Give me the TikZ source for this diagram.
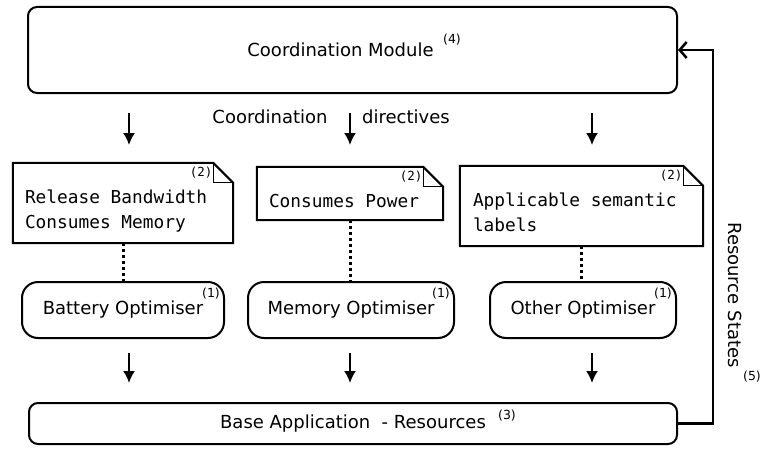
\documentclass[tikz,border=0pt]{standalone}
\usepackage{fontspec}
\setmainfont{DejaVu Sans}
\setmonofont{DejaVu Sans Mono}
\usetikzlibrary{arrows.meta, positioning}
\tikzstyle{bigbox} = [rectangle, rounded corners=9pt, draw=black, line width=2pt, font=\fontsize{18}{21}\selectfont]
\tikzstyle{optbox} = [rectangle, rounded corners=16pt, draw=black, line width=2pt, minimum height=56pt, font=\fontsize{18}{21}\selectfont]
\tikzstyle{note} = [rectangle, inner sep=0pt]
\tikzstyle{notetxt} = [anchor=north west, inner sep=0pt, align=left, font=\fontsize{17.8}{25}\ttfamily]
\tikzstyle{tag} = [inner sep=0pt, font=\fontsize{12.5}{14}\selectfont]
\tikzstyle{plain} = [inner sep=0pt, font=\fontsize{18}{21}\selectfont]
\tikzstyle{arrow} = [line width=2pt, -{Latex[length=12pt,width=12pt]}]
\tikzstyle{dots} = [line width=3pt, dash pattern=on 3pt off 3pt]
\tikzstyle{feedback} = [line width=2.5pt, -{Straight Barb[length=7pt,width=16pt]}]

\begin{document}
\begin{tikzpicture}[x=1pt, y=-1pt]
      \useasboundingbox (0,0) rectangle (762,452);

      % coordination module
      \node (coord)    [bigbox, minimum width=649pt, minimum height=86pt,
                        label={[plain, xshift=-12pt]center:Coordination Module}] at (352.5,50) {};
      \node (coordtag) [tag]   at (452,40)  {(4)};
      \node (dirleft)  [plain] at (270,117) {Coordination};
      \node (dirright) [plain] at (406,117) {directives};

      % semantic labels
      \node (nbat) [note, minimum width=220pt, minimum height=80pt] at (123,203)   {};
      \node (nmem) [note, minimum width=186pt, minimum height=53pt] at (350,193.5) {};
      \node (noth) [note, minimum width=243pt, minimum height=80pt] at (581.5,206) {};
      \foreach \n in {nbat,nmem,noth} {
        \draw [line width=2pt] (\n.north west) -- ([xshift=-20pt]\n.north east) -- ([yshift=-20pt]\n.north east)
              -- (\n.south east) -- (\n.south west) -- cycle;
        \draw [line width=1.2pt] ([xshift=-20pt]\n.north east) |- ([yshift=-20pt]\n.north east);
        \node (\n-tag) [tag, font=\fontsize{12.5}{14}\ttfamily] at ([xshift=-32pt,yshift=-10pt]\n.north east) {(2)};
      }
      \node (nbattxt) [notetxt] at ([xshift=12pt,yshift=-27pt]nbat.north west) {Release Bandwidth\\Consumes Memory};
      \node (nmemtxt) [notetxt] at ([xshift=12pt,yshift=-27pt]nmem.north west) {Consumes Power};
      \node (nothtxt) [notetxt] at ([xshift=13pt,yshift=-27pt]noth.north west) {Applicable semantic\\labels};

      % optimisers
      \node (obat) [optbox, minimum width=202pt] at (123,310) {Battery Optimiser};
      \node (omem) [optbox, minimum width=206pt] at (351,310) {Memory Optimiser};
      \node (ooth) [optbox, minimum width=186pt] at (583,310) {Other Optimiser};
      \foreach \n in {obat,omem,ooth}
        \node (\n-tag) [tag] at ([xshift=-14pt,yshift=-13pt]\n.north east) {(1)};

      % base application
      \node (base)    [bigbox, minimum width=648pt, minimum height=41pt] at (353,423.5) {Base Application\ \ - Resources};
      \node (basetag) [tag] at (507,416) {(3)};

      \draw [dots] (nbat.south) -- (nbat.south |- obat.north);
      \draw [dots] (nmem.south) -- (nmem.south |- omem.north);
      \draw [dots] (noth.south) -- (noth.south |- ooth.north);

      \foreach \x [count=\i] in {129,350,592} {
        \coordinate (dirin\i)  at (\x,113);
        \coordinate (dirout\i) at (\x,145);
        \coordinate (optin\i)  at (\x,353);
        \coordinate (optout\i) at (\x,383);
        \draw [arrow] (dirin\i) -- (dirout\i);
        \draw [arrow] (optin\i) -- (optout\i);
      }

      % resource states back to the module
      \draw [feedback] (base.east) -- ++(35,0) |- (coord.east);
      \node (resst)    [plain, rotate=-90] at (735,295) {Resource States};
      \node (ressttag) [tag] at (752,377) {(5)};
\end{tikzpicture}
\end{document}
